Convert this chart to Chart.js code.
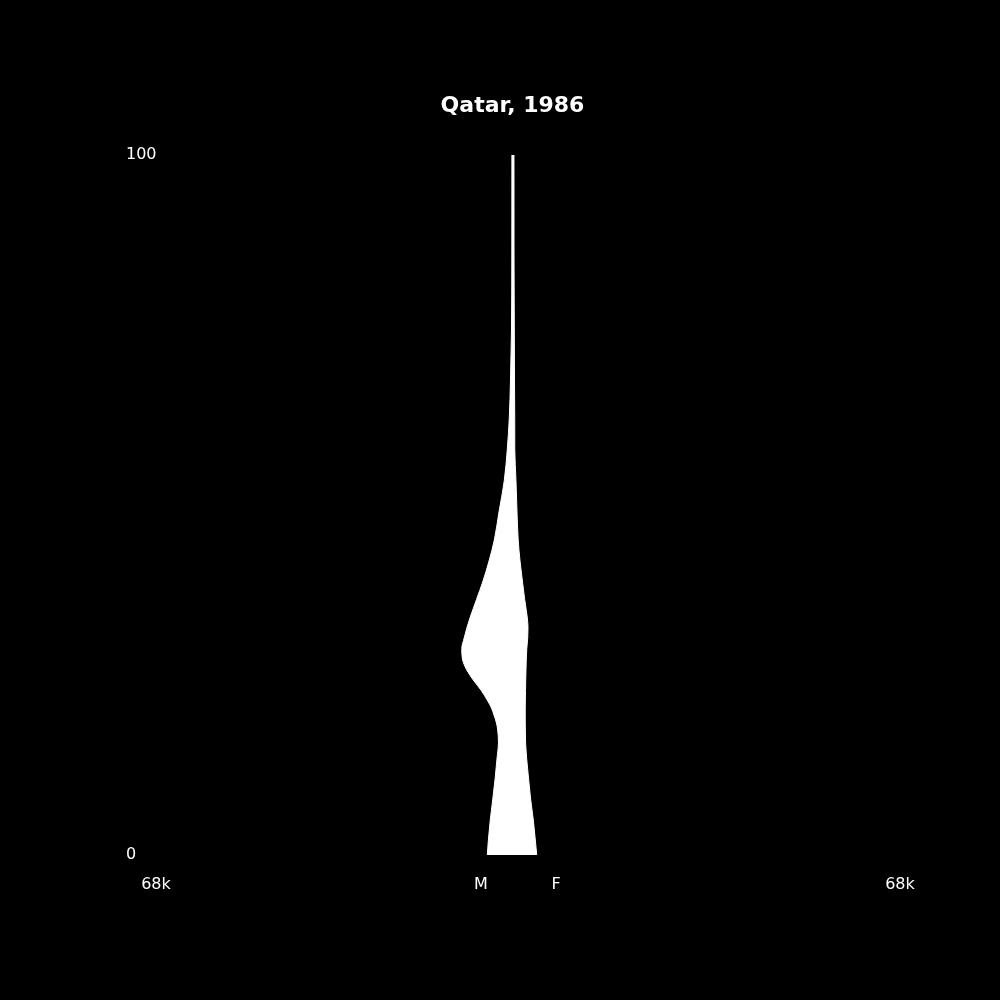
<!DOCTYPE html>
<html>
<head>
<meta charset="utf-8">
<script src="https://cdn.jsdelivr.net/npm/chart.js@4.4.1/dist/chart.umd.min.js"></script>
<style>
  html, body { margin: 0; padding: 0; background: #000; }
  #wrap { width: 1000px; height: 1000px; }
</style>
</head>
<body>
<div id="wrap"><canvas id="c" width="1000" height="1000"></canvas></div>
<script>
const chartTitle = 'Qatar, 1986';
const ages = [0, 2, 5, 8, 11, 14, 16, 18, 19, 20, 21, 22, 23.5, 25, 26.5, 28, 29.5, 31, 32.5, 34, 36.5, 39, 42, 45, 49, 53.5, 58, 62.5, 68, 75, 85, 100];
const male = [4420, 4250, 3900, 3460, 3040, 2690, 2460, 2620, 2860, 3250, 3690, 4340, 5480, 6880, 8070, 8780, 8900, 8480, 7990, 7410, 6320, 5230, 4120, 3190, 2370, 1440, 910, 560, 350, 180, 120, 105];
const female = [4250, 4020, 3650, 3180, 2810, 2460, 2300, 2255, 2240, 2235, 2240, 2255, 2290, 2320, 2370, 2420, 2510, 2670, 2720, 2580, 2140, 1760, 1320, 1000, 790, 610, 400, 390, 350, 320, 270, 260];
const xMax = 68000;
const xTickValues = [-62560, -5530, 7630, 68000];
const xTickLabels = ['68k', 'M', 'F', '68k'];
const yTickValues = [0, 100];

const bgPlugin = {
  id: 'bg',
  beforeDraw(chart) {
    const c = chart.ctx;
    c.save();
    c.fillStyle = '#000';
    c.fillRect(0, 0, chart.width, chart.height);
    c.restore();
  }
};

const tickFont = { family: 'DejaVu Sans', size: 16 };

new Chart(document.getElementById('c'), {
  type: 'line',
  data: {
    datasets: [
      {
        label: 'M',
        data: ages.map((a, i) => ({ x: -male[i], y: a })),
        fill: '+1',
        backgroundColor: '#ffffff',
        borderColor: '#ffffff',
        borderWidth: 1,
        pointRadius: 0,
        cubicInterpolationMode: 'monotone'
      },
      {
        label: 'F',
        data: ages.map((a, i) => ({ x: female[i], y: a })),
        fill: false,
        backgroundColor: '#ffffff',
        borderColor: '#ffffff',
        borderWidth: 1,
        pointRadius: 0,
        cubicInterpolationMode: 'monotone'
      }
    ]
  },
  options: {
    indexAxis: 'y',
    responsive: false,
    animation: false,
    devicePixelRatio: 1,
    layout: { padding: { left: 125, right: 100, top: 93, bottom: 95 } },
    plugins: {
      legend: { display: false },
      tooltip: { enabled: false },
      title: {
        display: true,
        text: chartTitle,
        color: '#ffffff',
        font: { family: 'DejaVu Sans', size: 22, weight: 'bold' },
        padding: { top: 0, bottom: 35.6 }
      }
    },
    scales: {
      x: {
        type: 'linear',
        min: -xMax,
        max: xMax,
        grid: { display: false, drawTicks: false },
        border: { display: false },
        afterBuildTicks: s => { s.ticks = xTickValues.map(v => ({ value: v })); },
        afterFit: s => { s.height = 50; s.paddingLeft = 0; s.paddingRight = 0; },
        ticks: {
          color: '#ffffff',
          font: tickFont,
          padding: 20.5,
          maxRotation: 0,
          autoSkip: false,
          callback: (v, i) => xTickLabels[i]
        }
      },
      y: {
        type: 'linear',
        min: 0,
        max: 100,
        grid: { display: false },
        border: { display: false },
        afterBuildTicks: s => { s.ticks = yTickValues.map(v => ({ value: v })); },
        afterFit: s => { s.width = 0; s.paddingTop = 0; s.paddingBottom = 0; },
        ticks: {
          color: '#ffffff',
          font: tickFont,
          mirror: true,
          padding: 1,
          autoSkip: false,
          callback: v => String(v)
        }
      }
    }
  },
  plugins: [bgPlugin]
});
</script>
</body>
</html>
